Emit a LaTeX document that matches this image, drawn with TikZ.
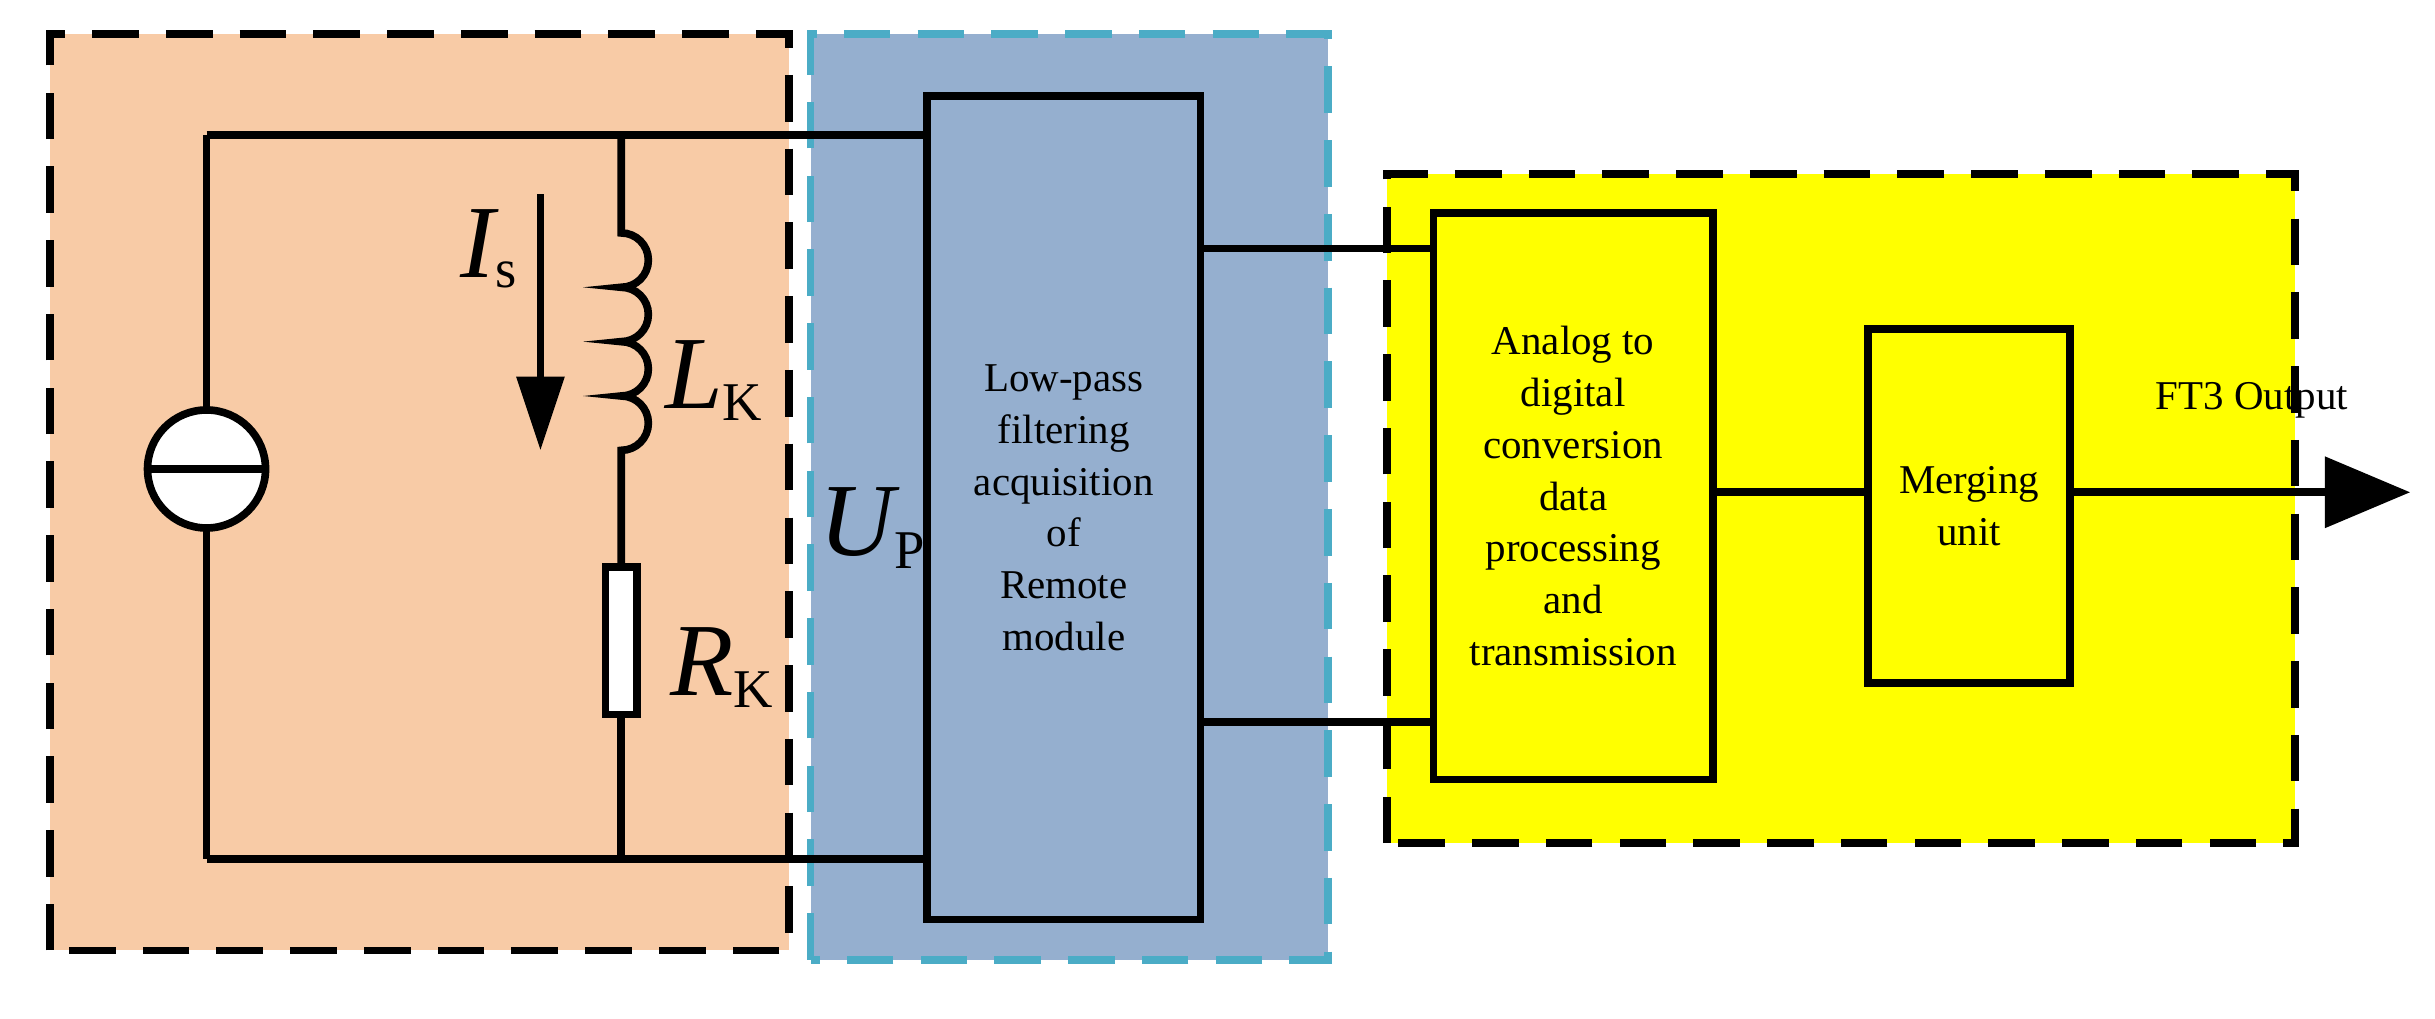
\documentclass[tikz,border=0pt]{standalone}
\usepackage{fontspec}
\setmainfont{Liberation Serif}
\usetikzlibrary{arrows.meta}
\definecolor{peach}{HTML}{F8CBA6}
\definecolor{bluef}{HTML}{95AFCF}
\definecolor{cyanb}{HTML}{4BACC6}
\definecolor{yel}{HTML}{FFFF00}
\begin{document}
\begin{tikzpicture}[x=0.02cm,y=0.02cm,
  w/.style={line width=2.8pt},
  dsh/.style={line width=2.8pt,dash pattern=on 0.6cm off 0.35cm},
  box/.style={draw,line width=2.8pt,align=center,inner sep=0pt,font=\fontsize{15}{19}\selectfont},
  big/.style={font=\fontsize{38}{40}\selectfont\itshape}]
\useasboundingbox (0,0) rectangle (1568,656);
\fill[peach] (32,44) rectangle (508,634);
\draw[dsh] (32,44) rectangle (508,634);
\fill[bluef] (522,38) rectangle (855,634);
\draw[dsh,cyanb] (522,38) rectangle (855,634);
\fill[yel] (893,113) rectangle (1478,544);
\draw[dsh] (893,113) rectangle (1478,544);
% circuit
\coordinate (tl) at (133,569); \coordinate (bl) at (133,103);
\coordinate (tm) at (400,569); \coordinate (bm) at (400,103);
\draw[w] (tl) -- (bl);
\node[circle,draw,line width=2.8pt,fill=white,minimum size=76*0.02cm,inner sep=0pt] (src) at (133,354) {};
\draw[w] (src.west) -- (src.east);
\node[box,fill=bluef,minimum width=176*0.02cm,minimum height=530*0.02cm] (lp) at (685,329)
 {Low-pass\\filtering\\acquisition\\of\\Remote\\module};
\draw[w] (tl) -- (lp.west|-tl);
\draw[w] (bl) -- (lp.west|-bl);
\draw[w] (tm) -- (400,506) arc[start angle=90,end angle=-90,radius=17.5]
  arc[start angle=90,end angle=-90,radius=17.5]
  arc[start angle=90,end angle=-90,radius=17.5]
  arc[start angle=90,end angle=-90,radius=17.5] -- (400,291);
\node[draw,line width=2.8pt,fill=white,minimum width=20*0.02cm,minimum height=95*0.02cm,inner sep=0pt] (res) at (400,243.5) {};
\draw[w] (res.south) -- (bm);
\coordinate (ia) at (348,531); \coordinate (ib) at (348,366);
\draw[w,-{Triangle[length=0.95cm,width=0.6cm]}] (ia) -- (ib);
\node[big] (is) at (315,496) {I\textsubscript{\upshape\fontsize{20}{20}\selectfont s}};
\node[big] (lk) at (460,411) {L\textsubscript{\upshape\fontsize{20}{20}\selectfont K}};
\node[big] (rk) at (465,226) {R\textsubscript{\upshape\fontsize{20}{20}\selectfont K}};
\node[big] (up) at (562,316) {U\textsubscript{\upshape\fontsize{20}{20}\selectfont P}};
\node[box,minimum width=180*0.02cm,minimum height=365*0.02cm] (adc) at (1013,336.5)
 {Analog to\\digital\\conversion\\data\\processing\\and\\transmission};
\draw[w] (lp.east|-0,496) -- (adc.west|-0,496);
\draw[w] (lp.east|-0,191) -- (adc.west|-0,191);
\node[box,minimum width=130*0.02cm,minimum height=228*0.02cm] (mu) at (1268,330) {Merging\\unit};
\draw[w] (adc.east|-0,339) -- (mu.west|-0,339);
\coordinate (out) at (1552,339);
\draw[w,-{Triangle[length=1.1cm,width=0.9cm]}] (mu.east|-0,339) -- (out);
\node[font=\fontsize{15}{19}\selectfont] (ft) at (1450,398) {FT3 Output};
\end{tikzpicture}
\end{document}
